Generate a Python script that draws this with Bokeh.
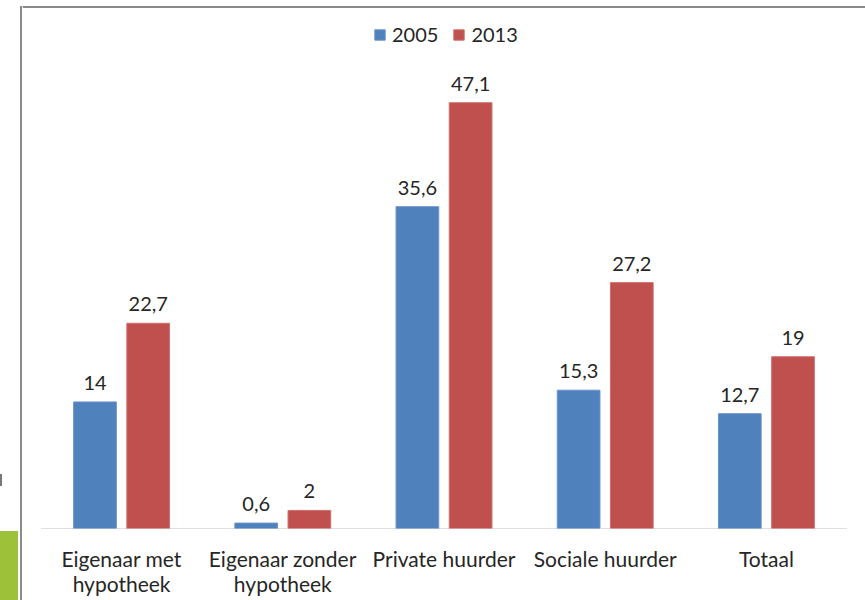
from bokeh.plotting import figure
from bokeh.layouts import row
from bokeh.models import (FactorRange, Range1d, ColumnDataSource, Span,
                          Legend, LegendItem, Div)
from bokeh.transform import dodge
from bokeh.core.properties import value
from bokeh.embed import file_html
from bokeh.resources import INLINE

categories = ["Eigenaar met\nhypotheek", "Eigenaar zonder\nhypotheek",
              "Private huurder", "Sociale huurder", "Totaal"]
values_2005 = [14, 0.6, 35.6, 15.3, 12.7]
values_2013 = [22.7, 2, 47.1, 27.2, 19]
series_names = ["2005", "2013"]
colors = ["#4F81BD", "#C0504D"]

FONT = "Lato"
TXT = "#262626"
GREY = "#8a8a8a"

def fmt(v):
    return f"{v:g}".replace(".", ",")

src = ColumnDataSource(dict(
    cat=categories,
    v05=values_2005,
    v13=values_2013,
    l05=[fmt(v) for v in values_2005],
    l13=[fmt(v) for v in values_2013],
))
base_src = ColumnDataSource(dict(first=[categories[0]], last=[categories[-1]], y=[0]))

# ---- left strip (frame edge + green block), plain HTML decoration ----
SW, H = 22, 600
side_html = (
    f'<div style="position:relative;width:{SW}px;height:{H}px;overflow:hidden;">'
    f'<div style="position:absolute;left:0px;top:531px;width:18px;height:69px;background:#9DC23A;"></div>'
    f'<div style="position:absolute;left:20px;top:6px;width:2px;height:594px;background:{GREY};"></div>'
    f'<div style="position:absolute;left:0px;top:474px;width:2px;height:12px;background:#777777;"></div>'
    '</div>'
)
side = Div(text=side_html, width=SW, height=H, margin=(0, 0, 0, 0))

# ---- main chart ----
MW = 865 - SW
p = figure(width=MW, height=H,
           x_range=FactorRange(*categories, range_padding=18.5 / 161.2,
                               range_padding_units="absolute"),
           y_range=Range1d(0, (528 - 5) / 9.04),
           output_backend="svg", toolbar_location=None,
           y_axis_location=None,
           min_border_left=0, min_border_right=0,
           min_border_top=5, min_border_bottom=72)
p.outline_line_color = None
p.grid.visible = False
p.background_fill_color = "white"
p.border_fill_color = "white"

# top frame line
p.add_layout(Span(location=(528 - 6.5) / 9.04, dimension="width",
                  line_color=GREY, line_width=2))

# baseline (category axis line) spanning the categories only
p.segment(x0=dodge("first", -0.5, range=p.x_range), x1=dodge("last", 0.5, range=p.x_range),
          y0="y", y1="y", source=base_src, line_color="#BFBFBF", line_width=1)

off = 0.165
bw = 0.265
r05 = p.vbar(x=dodge("cat", -off, range=p.x_range), top="v05", width=bw, source=src,
             fill_color=colors[0], line_color="#6b93c8", line_width=1)
r13 = p.vbar(x=dodge("cat", off, range=p.x_range), top="v13", width=bw, source=src,
             fill_color=colors[1], line_color="#cc706d", line_width=1)

for xo, yc, tc in ((-off, "v05", "l05"), (off, "v13", "l13")):
    p.text(x=dodge("cat", xo, range=p.x_range), y=yc, text=tc, source=src,
           text_align="center", text_baseline="bottom", y_offset=-12,
           text_font=value(FONT), text_font_size="20px", text_color=TXT)

ax = p.xaxis[0]
ax.axis_line_color = None
ax.major_tick_line_color = None
ax.minor_tick_line_color = None
ax.major_label_text_font = FONT
ax.major_label_text_font_size = "21px"
ax.major_label_text_color = TXT
ax.major_label_standoff = 11
ax.major_label_text_align = "center"
ax.major_label_text_line_height = 1.0

legend = Legend(items=[LegendItem(label=series_names[0], renderers=[r05]),
                       LegendItem(label=series_names[1], renderers=[r13])],
                orientation="horizontal", location=(351, 482),
                padding=0, margin=0, spacing=14,
                glyph_width=13, glyph_height=13, label_standoff=6,
                label_text_font=FONT, label_text_font_size="20px",
                label_text_color=TXT, border_line_color=None,
                background_fill_alpha=0)
p.add_layout(legend, "center")

layout = row(side, p, spacing=0)
open("out.html", "w").write(file_html(layout, INLINE))
